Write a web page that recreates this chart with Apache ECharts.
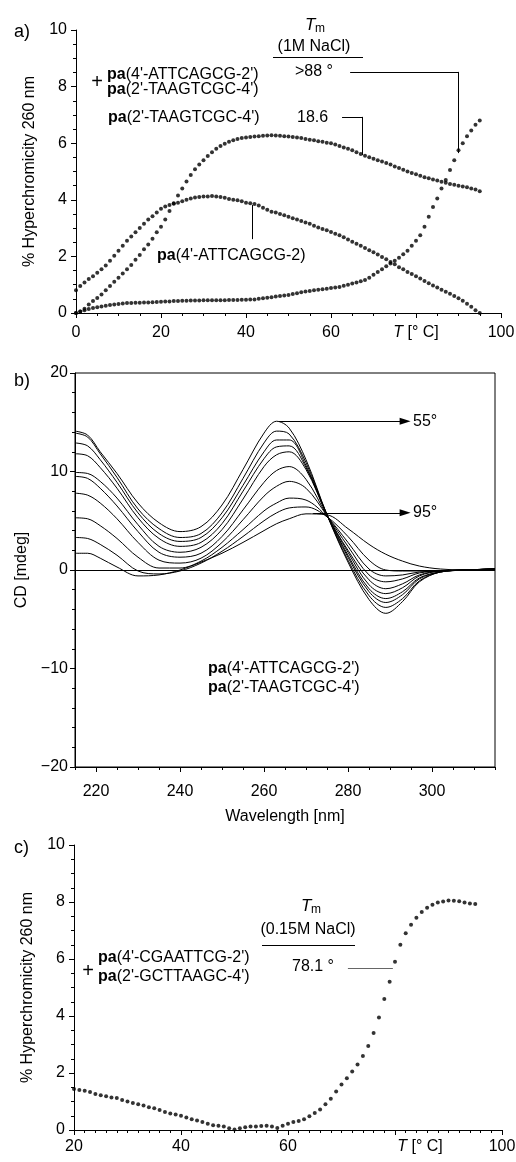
<!DOCTYPE html>
<html><head><meta charset="utf-8">
<script src="https://cdn.jsdelivr.net/npm/echarts@6/dist/echarts.min.js"></script>
<style>html,body{margin:0;padding:0;background:#fff}#c{width:516px;height:1162px}</style>
</head><body><div id="c"></div>
<script>
// ---------- DATA ----------
// Panel a: temperature grid (°C), one reading per degree
const tempA = Array.from({length: 96}, (_, i) => i);
// pa(4'-ATTCAGCG-2)
const hypA_single1 = [0.80,0.95,1.08,1.20,1.30,1.42,1.55,1.68,1.85,2.02,2.20,2.38,2.55,2.70,2.85,3.00,3.15,3.30,3.42,3.55,
  3.68,3.76,3.82,3.86,3.90,3.95,4.00,4.05,4.08,4.10,4.12,4.12,4.13,4.12,4.10,4.07,4.03,4.00,3.98,3.95,
  3.90,3.88,3.85,3.80,3.72,3.65,3.58,3.55,3.50,3.45,3.40,3.35,3.30,3.25,3.20,3.15,3.08,3.02,2.97,2.92,
  2.86,2.80,2.75,2.68,2.60,2.52,2.45,2.38,2.30,2.22,2.15,2.07,1.98,1.90,1.80,1.72,1.62,1.55,1.45,1.38,
  1.30,1.22,1.13,1.05,0.97,0.90,0.82,0.75,0.68,0.60,0.52,0.43,0.33,0.22,0.10,0.00];
// pa(2'-TAAGTCGC-4')
const hypA_single2 = [0.00,0.05,0.15,0.30,0.42,0.53,0.65,0.80,0.95,1.10,1.25,1.40,1.55,1.70,1.88,2.05,2.25,2.42,2.62,2.85,
  3.05,3.30,3.60,3.88,4.15,4.40,4.65,4.88,5.08,5.25,5.40,5.55,5.68,5.80,5.90,5.98,6.05,6.10,6.15,6.18,
  6.20,6.22,6.24,6.25,6.26,6.27,6.28,6.27,6.26,6.25,6.24,6.22,6.20,6.18,6.15,6.12,6.10,6.07,6.05,6.02,
  6.00,5.95,5.90,5.85,5.80,5.75,5.68,5.62,5.56,5.50,5.45,5.40,5.35,5.30,5.25,5.18,5.12,5.06,5.00,4.95,
  4.90,4.85,4.80,4.76,4.72,4.68,4.64,4.60,4.56,4.53,4.50,4.47,4.44,4.40,4.36,4.30];
// duplex pa(4'-ATTCAGCG-2') + pa(2'-TAAGTCGC-4')
const hypA_duplex = [0.00,0.05,0.10,0.14,0.18,0.20,0.23,0.26,0.28,0.30,0.32,0.34,0.35,0.35,0.36,0.36,0.37,0.37,0.38,0.39,
  0.40,0.41,0.41,0.42,0.42,0.43,0.43,0.44,0.44,0.44,0.45,0.45,0.45,0.45,0.45,0.45,0.46,0.46,0.46,0.47,
  0.47,0.48,0.48,0.50,0.52,0.54,0.56,0.58,0.60,0.62,0.64,0.67,0.70,0.73,0.76,0.78,0.80,0.82,0.84,0.86,
  0.88,0.90,0.92,0.96,1.00,1.04,1.08,1.12,1.17,1.25,1.35,1.45,1.55,1.65,1.75,1.85,1.95,2.08,2.20,2.38,
  2.55,2.75,3.05,3.40,3.75,4.05,4.40,4.70,5.05,5.40,5.75,6.00,6.25,6.45,6.65,6.80];

// Panel b: CD spectra (mdeg) at the listed wavelengths (nm), 55° ... 95°
const wavelengths = [215,218,221,225,230,235,240,245,250,255,260,263,266,270,275,280,285,289,293,297,302,308,315];
const cdCurve1  = [14.1,13.7,12.0,9.8,6.8,4.8,3.9,4.4,6.6,10.2,13.9,15.1,14.4,11.2,5.6,0.8,-3.0,-4.4,-3.2,-1.2,-0.2,0.0,0.1];
const cdCurve2  = [13.9,13.5,11.8,9.4,6.2,4.2,3.3,3.7,5.8,9.3,12.9,14.1,13.8,10.9,5.6,1.0,-2.6,-3.8,-2.9,-1.1,-0.2,0.0,0.1];
const cdCurve3  = [12.9,12.6,11.2,8.9,5.8,3.7,2.9,3.3,5.3,8.6,12.0,13.2,13.2,10.6,5.6,1.3,-2.2,-3.3,-2.5,-0.9,-0.2,0.0,0.1];
const cdCurve4  = [11.8,11.6,10.4,8.3,5.3,3.2,2.4,2.8,4.7,8.0,11.3,12.5,12.6,10.4,5.6,1.5,-1.9,-2.9,-2.2,-0.8,-0.2,0.0,0.1];
const cdCurve5  = [9.9,9.8,9.0,7.3,4.6,2.4,1.8,2.3,4.1,7.2,10.5,11.7,12.0,10.2,5.6,1.8,-1.5,-2.4,-1.8,-0.6,-0.1,0.0,0.1];
const cdCurve6  = [9.5,9.3,8.3,6.5,3.9,1.8,1.3,1.7,3.4,6.1,8.9,10.1,10.5,9.2,5.5,2.0,-1.0,-1.9,-1.4,-0.5,-0.1,0.0,0.1];
const cdCurve7  = [7.8,7.6,6.8,5.2,2.8,1.0,0.7,1.2,2.8,5.1,7.5,8.5,9.0,8.3,5.5,2.4,-0.5,-1.2,-0.9,-0.3,-0.1,0.0,0.1];
const cdCurve8  = [5.3,5.2,4.5,3.2,1.3,0.2,0.2,0.9,2.3,4.1,6.0,6.8,7.3,7.1,5.4,2.8,0.1,-0.6,-0.5,-0.2,-0.1,0.0,0.1];
const cdCurve9  = [3.3,3.2,2.6,1.5,-0.1,-0.4,-0.1,0.7,1.9,3.4,5.0,5.8,6.3,6.4,5.4,3.4,1.0,0.0,-0.1,-0.1,-0.1,0.0,0.1];
const cdCurve10 = [1.7,1.7,1.2,0.3,-0.6,-0.5,0.0,0.8,1.7,2.8,4.0,4.7,5.2,5.7,5.6,4.2,2.6,1.6,0.9,0.4,0.1,0.0,0.1];
const cdCurves = [cdCurve1,cdCurve2,cdCurve3,cdCurve4,cdCurve5,cdCurve6,cdCurve7,cdCurve8,cdCurve9,cdCurve10];

// Panel c: duplex pa(4'-CGAATTCG-2') + pa(2'-GCTTAAGC-4')
const tempC = Array.from({length: 76}, (_, i) => 20 + i);
const hypC_duplex = [1.44,1.40,1.38,1.33,1.26,1.22,1.18,1.14,1.12,1.05,1.00,0.95,0.90,0.86,0.80,0.76,0.70,0.63,0.58,0.54,
  0.50,0.44,0.38,0.33,0.28,0.22,0.17,0.15,0.12,0.06,0.02,0.06,0.10,0.12,0.12,0.14,0.15,0.12,0.07,0.15,
  0.22,0.28,0.32,0.38,0.48,0.60,0.72,0.90,1.10,1.35,1.60,1.82,2.05,2.30,2.60,2.95,3.40,3.95,4.60,5.20,
  5.90,6.50,6.90,7.20,7.45,7.65,7.80,7.90,7.98,8.02,8.05,8.04,8.03,7.98,7.95,7.93];

// Tick values
const ticksB = [220,240,260,280,300];
const minorTicksB = [215,225,230,235,245,250,255,265,270,275,285,290,295,305,310,315];

// ---------- CHART ----------
const FONT = "'Liberation Sans', Arial, Helvetica, sans-serif";
const BLACK = '#000';
const zip = (xs, ys) => xs.map((x, i) => [x, ys[i]]);

function xAx(gi, min, max, interval, minorSplit, labelFmt, margin, extra) {
  return Object.assign({
    type: 'value', gridIndex: gi, min, max, interval,
    axisLine: {show: true, onZero: false, lineStyle: {color: BLACK, width: 1}},
    axisTick: {show: true, inside: false, length: 5, lineStyle: {color: BLACK, width: 1}},
    minorTick: {show: true, splitNumber: minorSplit, length: 3, lineStyle: {color: BLACK, width: 1}},
    splitLine: {show: false}, minorSplitLine: {show: false},
    axisLabel: {color: BLACK, fontSize: 16, fontFamily: FONT, margin, formatter: labelFmt,
      rich: {i: {fontStyle: 'italic', fontSize: 16, fontFamily: FONT, color: BLACK},
             ii: {fontStyle: 'italic', fontSize: 16, fontFamily: FONT, color: BLACK, padding: [0,0,0,50]}}}
  }, extra || {});
}
function yAx(gi, min, max, interval, minorSplit, name, nameGap, margin) {
  return {
    type: 'value', gridIndex: gi, min, max, interval,
    axisLine: {show: true, onZero: false, lineStyle: {color: BLACK, width: 1}},
    axisTick: {show: true, inside: false, length: 5, lineStyle: {color: BLACK, width: 1}},
    minorTick: {show: true, splitNumber: minorSplit, length: 3, lineStyle: {color: BLACK, width: 1}},
    splitLine: {show: false}, minorSplitLine: {show: false},
    axisLabel: {color: BLACK, fontSize: 16, fontFamily: FONT, margin,
      formatter: v => String(v).replace('-', '\u2212')},
    name, nameLocation: 'middle', nameGap, nameRotate: 90,
    nameTextStyle: {color: BLACK, fontSize: 16, fontFamily: FONT}
  };
}

const segStyle = {color: BLACK, width: 1, type: 'solid'};
function seg(a, b) { return [{coord: a}, {coord: b}]; }

const series = [];
const scatterStyle = {color: BLACK};
[hypA_single1, hypA_single2, hypA_duplex].forEach((vals, k) => {
  const s = {type: 'scatter', xAxisIndex: 0, yAxisIndex: 0, symbolSize: 4,
    itemStyle: scatterStyle, data: zip(tempA, vals), silent: true};
  if (k === 0) {
    s.markLine = {silent: true, symbol: ['none','none'], label: {show: false},
      lineStyle: segStyle, emphasis: {disabled: true},
      data: [
        seg([62.6, 6.93], [67.3, 6.93]), seg([67.3, 6.93], [67.3, 5.58]),
        seg([64.5, 8.52], [89.9, 8.52]), seg([89.9, 8.52], [89.9, 5.65]),
        seg([41.4, 3.82], [41.4, 2.61])
      ]};
  }
  series.push(s);
});
cdCurves.forEach((vals, k) => {
  const s = {type: 'line', xAxisIndex: 1, yAxisIndex: 1, showSymbol: false, smooth: 0.35,
    lineStyle: {color: BLACK, width: 1}, data: zip(wavelengths, vals), silent: true};
  if (k === 0) {
    s.markLine = {silent: true, symbol: ['none','none'], label: {show: false},
      lineStyle: segStyle, emphasis: {disabled: true}, data: [{yAxis: 0}]};
  }
  if (k === 1) {
    s.markLine = {silent: true, symbol: ['none','triangle'], symbolSize: [7, 11], label: {show: false},
      lineStyle: segStyle, emphasis: {disabled: true},
      data: [seg([263.5, 15.1], [293.6, 15.1]), seg([271.7, 5.8], [293.6, 5.8])]};
  }
  series.push(s);
});
series.push({type: 'scatter', xAxisIndex: 2, yAxisIndex: 2, symbolSize: 4, itemStyle: scatterStyle,
  data: zip(tempC, hypC_duplex), silent: true,
  markLine: {silent: true, symbol: ['none','none'], label: {show: false},
    lineStyle: {color: '#666', width: 1, type: 'solid'}, emphasis: {disabled: true},
    data: [seg([71.2, 5.68], [79.6, 5.68])]}});

function T(x, y, text, o) {
  return {type: 'text', x, y, silent: true,
    style: Object.assign({text, fill: BLACK, fontSize: 16, fontFamily: FONT, align: 'left', verticalAlign: 'middle',
      rich: {b: {fontWeight: 'bold', fontSize: 16, fontFamily: FONT, fill: BLACK}}}, o || {})};
}
function L(x1, y1, x2, y2, c) {
  return {type: 'line', silent: true, shape: {x1, y1, x2, y2}, style: {stroke: c || BLACK, lineWidth: 1}};
}

const graphic = [
  // panel a
  T(14, 32, 'a)', {fontSize: 18}),
  T(305, 25, 'T', {fontStyle: 'italic', fontSize: 17}),
  T(315, 29, 'm', {fontSize: 12}),
  T(314, 47, '(1M NaCl)', {align: 'center'}),
  L(273, 57.5, 363, 57.5),
  T(295, 72, '>88 °'),
  T(97, 82, '+', {align: 'center', fontSize: 20}),
  T(107, 75, "{b|pa}(4'-ATTCAGCG-2')"),
  T(107, 90, "{b|pa}(2'-TAAGTCGC-4')"),
  T(108, 118, "{b|pa}(2'-TAAGTCGC-4')"),
  T(297, 118, '18.6'),
  T(157, 256, "{b|pa}(4'-ATTCAGCG-2)"),
  // panel b
  T(14, 381, 'b)', {fontSize: 18}),
  T(413, 422, '55°'),
  T(413, 513, '95°'),
  T(208, 669, "{b|pa}(4'-ATTCAGCG-2')"),
  T(208, 688, "{b|pa}(2'-TAAGTCGC-4')"),
  // panel c
  T(14, 848, 'c)', {fontSize: 18}),
  T(301, 906, 'T', {fontStyle: 'italic', fontSize: 17}),
  T(311, 910, 'm', {fontSize: 12}),
  T(308, 930, '(0.15M NaCl)', {align: 'center'}),
  L(262, 945.5, 355, 945.5),
  T(292, 967, '78.1 °'),
  T(88, 971, '+', {align: 'center', fontSize: 20}),
  T(98, 958, "{b|pa}(4'-CGAATTCG-2')"),
  T(98, 977, "{b|pa}(2'-GCTTAAGC-4')")
];

const tickLine = {color: BLACK, width: 1};
const option = {
  animation: false,
  backgroundColor: '#fff',
  textStyle: {fontFamily: FONT},
  grid: [
    {left: 76, top: 30, width: 425, height: 283, outerBoundsMode: 'none', containLabel: false},
    {left: 75, top: 373, width: 420, height: 394, show: true, borderColor: BLACK, borderWidth: 1,
      backgroundColor: 'transparent', outerBoundsMode: 'none', containLabel: false},
    {left: 74, top: 845, width: 428, height: 285, outerBoundsMode: 'none', containLabel: false}
  ],
  xAxis: [
    xAx(0, 0, 100, 20, 4, v => (v === 80 ? '{i|T} [° C]' : String(v)), 12),
    {type: 'value', gridIndex: 1, min: 215, max: 315,
      axisLine: {show: true, onZero: false, lineStyle: tickLine},
      axisTick: {show: true, inside: false, length: 5, lineStyle: tickLine, customValues: ticksB},
      minorTick: {show: false}, splitLine: {show: false},
      axisLabel: {color: BLACK, fontSize: 16, fontFamily: FONT, margin: 17, customValues: ticksB},
      name: 'Wavelength [nm]', nameLocation: 'middle', nameGap: 42,
      nameTextStyle: {color: BLACK, fontSize: 16, fontFamily: FONT}},
    xAx(2, 20, 100, 20, 10, v => (v === 80 ? '{ii|T} [° C]' : String(v)), 9),
    {type: 'value', gridIndex: 1, min: 215, max: 315, position: 'bottom',
      axisLine: {show: false, onZero: false},
      axisTick: {show: true, inside: false, length: 3, lineStyle: tickLine, customValues: minorTicksB},
      axisLabel: {show: false}, splitLine: {show: false}, minorTick: {show: false}}
  ],
  yAxis: [
    yAx(0, 0, 10, 2, 4, '% Hyperchromicity 260 nm', 38, 9),
    yAx(1, -20, 20, 10, 5, 'CD [mdeg]', 38, 7),
    yAx(2, 0, 10, 2, 4, '% Hyperchromicity 260 nm', 38, 9)
  ],
  series,
  graphic
};

const chart = echarts.init(document.getElementById('c'), null, {renderer: 'canvas'});
chart.setOption(option);
</script></body></html>
